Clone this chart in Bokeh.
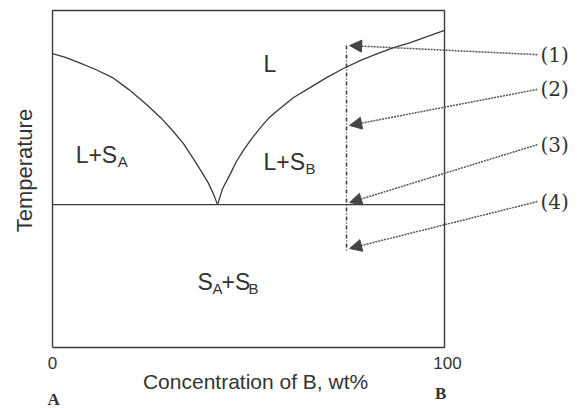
import math
from bokeh.plotting import figure
from bokeh.models import Range1d, Arrow, NormalHead
from bokeh.core.properties import value
from bokeh.embed import file_html
from bokeh.resources import INLINE

# ---- data ----
# composition of B (wt%) and temperature (relative units, 0..100)
liq_a_x = [0, 3.3, 6.6, 11.0, 15.3, 19.4, 23.7, 27.6, 30.6, 33.4, 35.7, 38.0, 39.8, 41.1, 42.1]
liq_a_t = [87.2, 86.1, 84.6, 82.5, 80.1, 76.6, 72.4, 68.2, 64.4, 60.5, 56.4, 52.2, 48.7, 45.4, 42.4]
liq_b_x = [42.1, 43.4, 45.4, 46.9, 48.7, 50.8, 53.1, 55.1, 57.4, 61.5, 65.8, 69.9,
           74.2, 78.6, 82.9, 87.0, 91.3, 95.7, 100]
liq_b_t = [42.4, 47.2, 51.6, 55.2, 58.5, 62.0, 65.3, 68.0, 70.3, 74.2, 77.2, 80.1,
           82.8, 85.2, 87.2, 89.0, 90.5, 92.3, 94.1]
eutectic_t = 42.4
box_x = [0, 100]
box_t = [0, 100]
alloy_x = 75.0
alloy_t = [89.6, 28.8]
point_labels = ["(1)", "(2)", "(3)", "(4)"]
point_t = [89.6, 65.9, 43.0, 29.4]
label_t = [86.9, 76.6, 60.2, 43.3]
label_x = 124.5
x_ticks = [0, 100]
x_tick_labels = ["0", "100"]

TXT = "#333333"
LINE = "#3a3a3a"

# frame = whole canvas; ranges chosen so that the diagram box sits where it does
p = figure(width=582, height=408, output_backend="svg", toolbar_location=None,
           x_range=Range1d(-13.27, 135.2), y_range=Range1d(-18.1, 102.97),
           min_border=0)
p.axis.visible = False
p.grid.visible = False
p.outline_line_color = None
p.background_fill_color = "white"
p.border_fill_color = "white"

# diagram box
bx = [box_x[0], box_x[1], box_x[1], box_x[0], box_x[0]]
by = [box_t[0], box_t[0], box_t[1], box_t[1], box_t[0]]
p.line(bx, by, line_color=LINE, line_width=1.4)

# liquidus lines and eutectic line
p.line(liq_a_x, liq_a_t, line_color=LINE, line_width=1.3)
p.line(liq_b_x, liq_b_t, line_color=LINE, line_width=1.3)
p.line(box_x, [eutectic_t, eutectic_t], line_color=LINE, line_width=1.3)
# alloy vertical
p.line([alloy_x, alloy_x], alloy_t, line_color=LINE, line_width=1.5,
       line_dash="4 2 1 2")

# arrows and labels
for pt, lt in zip(point_t, label_t):
    p.add_layout(Arrow(end=NormalHead(size=12, fill_color="#444444",
                                      line_color="#444444"),
                       x_start=label_x - 0.8, y_start=lt, x_end=alloy_x + 0.8, y_end=pt,
                       line_color="#555555", line_width=1.5, line_dash="2 1"))
p.text(x=[label_x] * 4, y=label_t, text=point_labels, text_font=value("DejaVu Serif"),
       text_font_size="20px", text_color=TXT, text_align="left",
       text_baseline="middle")

SUB = 1.8  # subscript cap-centre drop in data units (~6px)

def region(x, y, parts):
    # parts: list of (text, is_sub, x_offset_px)
    for t, sub, dx in parts:
        p.text(x=[x], y=[y - (SUB if sub else 0)], x_offset=dx, text=[t],
               text_font=value("Liberation Sans"),
               text_font_size="15px" if sub else "23px",
               text_color=TXT, text_align="left", text_baseline="middle")

region(53.8, 84.1, [("L", False, 0)])
region(5.9, 57.0, [("L+S", False, 0), ("A", True, 42)])
region(53.8, 55.0, [("L+S", False, 0), ("B", True, 42)])
region(37.0, 19.4, [("S", False, 0), ("A", True, 15), ("+S", False, 24), ("B", True, 51)])

# x tick labels
p.text(x=x_ticks, y=[-4.5, -4.5], x_offset=[0, 3], text=x_tick_labels,
       text_font=value("Liberation Sans"), text_font_size="17px", text_color=TXT,
       text_align="center", text_baseline="middle")
# x axis title
p.text(x=[51.8], y=[-10.1], text=["Concentration of B, wt%"],
       text_font=value("Liberation Sans"), text_font_size="21px", text_color=TXT,
       text_align="center", text_baseline="middle")
# y axis title
p.text(x=[-7.1], y=[52.5], text=["Temperature"], angle=math.pi / 2,
       text_font=value("Liberation Sans"), text_font_size="22px", text_color=TXT,
       text_align="center", text_baseline="middle")
# A and B end-member labels
p.text(x=[0.3, 99.0], y=[-15.4, -13.6], text=["A", "B"],
       text_font=value("Liberation Serif"), text_font_style="bold",
       text_font_size="17px", text_color=TXT,
       text_align="center", text_baseline="middle")

open("out.html", "w").write(file_html(p, INLINE))
